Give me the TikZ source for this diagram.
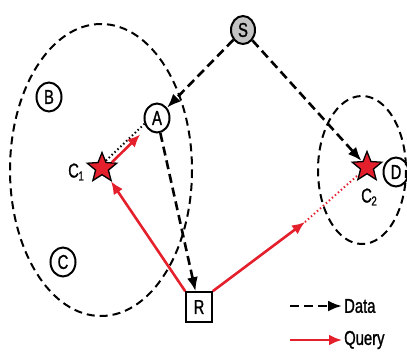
\documentclass[tikz,border=0pt]{standalone}
\usepackage{fontspec}
\setmainfont{Liberation Sans}
\newfontfamily\labfont[FakeStretch=0.74,FakeBold=1.2]{Liberation Sans}
\usetikzlibrary{shapes.geometric,arrows.meta,calc}
\definecolor{qred}{RGB}{228,32,44}
\definecolor{sgray}{RGB}{195,195,195}
\begin{document}
\begin{tikzpicture}[x=1pt,y=-1pt,
  every node/.style={font=\labfont\fontsize{20}{20}\selectfont},
  host/.style={ellipse,draw,line width=2pt,minimum width=25pt,minimum height=29pt,inner sep=0pt},
  cache/.style={star,star points=5,star point ratio=2.3,minimum size=31pt,inner sep=0pt,
    fill=qred,draw=black,line width=1.3pt},
  region/.style={draw,line width=2pt,dash pattern=on 8pt off 5pt},
  data/.style={line width=2.6pt,dash pattern=on 9pt off 5pt,-{Latex[length=14pt,width=11pt]}},
  query/.style={qred,line width=2.6pt,-{Latex[length=13pt,width=11pt]}},
  hint/.style={line width=2pt,dash pattern=on 1.4pt off 2.6pt}
]
\useasboundingbox (0,0) rectangle (407,354);

% cluster regions
\draw[region] (101,170) ellipse [x radius=91, y radius=146];
\draw[region] (362,170) ellipse [x radius=44, y radius=74];

% hosts
\node[host,fill=sgray,minimum width=24pt,minimum height=28pt] (S) at (243,30) {S};
\node[host] (A) at (157,118) {A};
\node[host] (B) at (49,97) {B};
\node[host] (C) at (63,262) {C};
\node[host] (D) at (396,172) {D};
\node[draw,line width=1.6pt,minimum width=26pt,minimum height=30pt,inner sep=0pt] (R) at (199,307) {R};

% caches
\node[cache] (C1s) at (102,168) {};
\node[cache] (C2s) at (367,167) {};
\node (C1l) at (76,172) {C\kern-0.5pt\raisebox{-3pt}{\fontsize{13}{13}\selectfont 1}};
\node (C2l) at (369,197) {C\kern-0.5pt\raisebox{-3pt}{\fontsize{13}{13}\selectfont 2}};

% data flows
\draw[data] (S) -- (A);
\draw[data] (S) -- (C2s);
\draw[data] (A) -- (R);

% query flows
\coordinate (q2) at (305,222);
\draw[hint] (C1s.62) -- (A.205);
\draw[query,shorten >=9pt] (C1s.30) -- (A);
\draw[query] (R.north west) -- (C1s);
\draw[query] (R.north east) -- (q2);
\draw[hint,qred] (q2) -- (C2s);

% legend
\coordinate (d1) at (290,306);
\coordinate (d2) at (342,306);
\coordinate (k1) at (290,340);
\coordinate (k2) at (342,340);
\draw[data] (d1) -- (d2);
\draw[query] (k1) -- (k2);
\node[anchor=west,inner sep=1pt] (dl) at (343,306) {Data};
\node[anchor=west,inner sep=1pt] (ql) at (343,340) {Query};
\end{tikzpicture}
\end{document}
